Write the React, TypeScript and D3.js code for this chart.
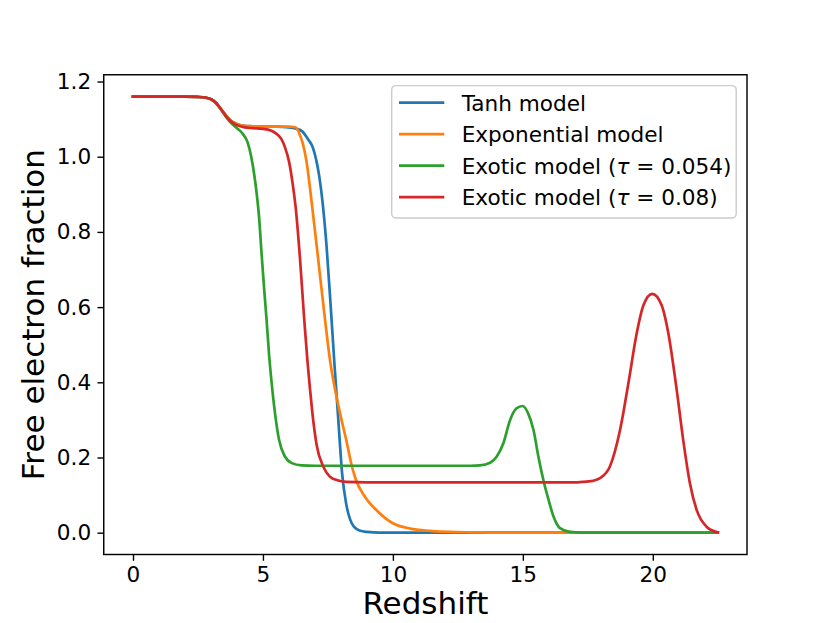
import React, { useRef, useEffect } from "react";
import * as d3 from "d3";

// Tanh model
const zTanh = [0, 1, 2, 2.5, 2.8, 3.0, 3.2, 3.4, 3.6, 3.8, 4.0, 4.3, 4.6, 5.0, 5.5, 6.0, 6.25, 6.5, 6.75, 6.9, 7.0, 7.07, 7.15, 7.3, 7.45, 7.6, 7.75, 7.9, 8.05, 8.2, 8.35, 8.5, 8.75, 9.0, 9.5, 10, 12, 15, 18, 20, 22.5];
const xeTanh = [1.16, 1.16, 1.16, 1.159, 1.157, 1.153, 1.143, 1.126, 1.108, 1.094, 1.087, 1.082, 1.081, 1.08, 1.08, 1.078, 1.075, 1.068, 1.045, 1.028, 1.006, 0.985, 0.955, 0.875, 0.76, 0.61, 0.45, 0.3, 0.155, 0.078, 0.036, 0.016, 0.005, 0.002, 0, 0, 0, 0, 0, 0, 0];

// Exponential model
const zExp = [0, 1, 2, 2.5, 2.8, 3.0, 3.2, 3.4, 3.6, 3.8, 4.0, 4.3, 4.6, 5.0, 5.5, 6.0, 6.2, 6.3, 6.4, 6.53, 6.67, 6.91, 7.13, 7.39, 7.58, 7.94, 8.22, 8.41, 8.58, 8.93, 9.44, 10.0, 10.66, 11.43, 12.2, 13, 14, 16, 18, 20, 22.5];
const xeExp = [1.16, 1.16, 1.16, 1.159, 1.157, 1.153, 1.143, 1.126, 1.108, 1.094, 1.087, 1.082, 1.081, 1.08, 1.08, 1.08, 1.079, 1.076, 1.062, 1.036, 0.99, 0.858, 0.725, 0.566, 0.459, 0.326, 0.242, 0.18, 0.14, 0.095, 0.055, 0.025, 0.011, 0.005, 0.002, 0.001, 0, 0, 0, 0, 0];

// Exotic model, tau = 0.054
const zExotic054 = [0, 1, 2, 2.5, 2.8, 3.0, 3.2, 3.4, 3.6, 3.8, 4.0, 4.2, 4.4, 4.55, 4.7, 4.85, 4.95, 5.05, 5.14, 5.24, 5.34, 5.46, 5.62, 5.85, 6.11, 6.49, 7, 9, 11, 13, 13.35, 13.74, 13.99, 14.25, 14.51, 14.76, 14.99, 15.2, 15.41, 15.6, 15.79, 15.99, 16.18, 16.43, 16.81, 17.3, 18, 20, 22.5];
const xeExotic054 = [1.16, 1.16, 1.16, 1.159, 1.157, 1.153, 1.142, 1.124, 1.104, 1.088, 1.076, 1.063, 1.04, 1.0, 0.935, 0.84, 0.74, 0.645, 0.566, 0.47, 0.395, 0.32, 0.247, 0.202, 0.185, 0.179, 0.178, 0.178, 0.178, 0.178, 0.179, 0.186, 0.202, 0.238, 0.3, 0.331, 0.337, 0.318, 0.273, 0.202, 0.14, 0.087, 0.043, 0.012, 0.002, 0, 0, 0, 0];

// Exotic model, tau = 0.08
const zExotic08 = [0, 1, 2, 2.5, 2.8, 3.0, 3.2, 3.4, 3.6, 3.8, 4.0, 4.3, 4.6, 5.0, 5.3, 5.5, 5.7, 5.85, 6.01, 6.15, 6.27, 6.43, 6.59, 6.71, 6.8, 6.9, 7.07, 7.32, 7.58, 7.9, 8.22, 9, 12, 15, 17, 17.46, 17.71, 17.97, 18.35, 18.74, 19.06, 19.38, 19.64, 19.98, 20.34, 20.6, 20.92, 21.17, 21.43, 21.69, 22.07, 22.5];
const xeExotic08 = [1.16, 1.16, 1.16, 1.159, 1.157, 1.153, 1.143, 1.125, 1.106, 1.092, 1.084, 1.078, 1.076, 1.074, 1.07, 1.062, 1.048, 1.025, 0.985, 0.925, 0.858, 0.725, 0.566, 0.459, 0.39, 0.32, 0.232, 0.176, 0.149, 0.139, 0.135, 0.134, 0.134, 0.134, 0.134, 0.136, 0.138, 0.145, 0.176, 0.273, 0.397, 0.53, 0.605, 0.635, 0.605, 0.53, 0.38, 0.247, 0.131, 0.06, 0.016, 0.001];

const labels = ["Tanh model", "Exponential model", "Exotic model (", "Exotic model ("];
const tauValues = ["", "", "0.054", "0.08"];
const colors = ["#1f77b4", "#ff7f0e", "#2ca02c", "#d62728"];
const xTicks = [0, 5, 10, 15, 20];
const yTicks = [0, 0.2, 0.4, 0.6, 0.8, 1.0, 1.2];

const FONT = "DejaVu Sans, Liberation Sans, sans-serif";

const XeChart = () => {
    const ref = useRef<SVGSVGElement | null>(null);

    useEffect(() => {
        const left = 103.75;
        const right = 747;
        const top = 74.76;
        const bottom = 554.5;

        const series = [
            { z: zTanh, xe: xeTanh },
            { z: zExp, xe: xeExp },
            { z: zExotic054, xe: xeExotic054 },
            { z: zExotic08, xe: xeExotic08 },
        ];

        const svg = d3.select(ref.current);
        svg.selectAll("*").remove();

        svg.append("rect").attr("width", 830).attr("height", 623).attr("fill", "#fff");

        // matplotlib-like 5% margins
        const [zMin, zMax] = d3.extent(series.flatMap((s) => s.z)) as [number, number];
        const [yMin, yMax] = d3.extent(series.flatMap((s) => s.xe)) as [number, number];
        const zPad = (zMax - zMin) * 0.05;
        const yPad = (yMax - yMin) * 0.05;

        const x = d3.scaleLinear().domain([zMin - zPad, zMax + zPad]).range([left, right]);
        const y = d3.scaleLinear().domain([yMin - yPad, yMax + yPad]).range([bottom, top]);

        const line = d3
            .line<[number, number]>()
            .x((d) => x(d[0]))
            .y((d) => y(d[1]))
            .curve(d3.curveMonotoneX);

        // Lines
        series.forEach((s, i) => {
            svg.append("path")
                .datum(s.z.map((z, j) => [z, s.xe[j]] as [number, number]))
                .attr("d", line)
                .attr("fill", "none")
                .attr("stroke", colors[i])
                .attr("stroke-width", 2.7)
                .attr("stroke-linejoin", "round")
                .attr("stroke-linecap", "square");
        });

        // X axis
        const gx = svg
            .append("g")
            .attr("transform", `translate(0,${bottom})`)
            .call(
                d3.axisBottom(x).tickValues(xTicks).tickSize(6.3).tickPadding(6.3).tickSizeOuter(0).tickFormat(d3.format("d"))
            );
        gx.select(".domain").remove();
        gx.attr("font-family", FONT).attr("font-size", 21.6);
        gx.selectAll("line").attr("stroke", "#000").attr("stroke-width", 1.4);
        gx.selectAll("text").attr("fill", "#000");

        // Y axis
        const gy = svg
            .append("g")
            .attr("transform", `translate(${left},0)`)
            .call(
                d3.axisLeft(y).tickValues(yTicks).tickSize(6.3).tickPadding(6.3).tickSizeOuter(0).tickFormat(d3.format(".1f"))
            );
        gy.select(".domain").remove();
        gy.attr("font-family", FONT).attr("font-size", 21.6);
        gy.selectAll("line").attr("stroke", "#000").attr("stroke-width", 1.4);
        gy.selectAll("text").attr("fill", "#000");

        // Spines
        svg.append("rect")
            .attr("x", left)
            .attr("y", top)
            .attr("width", right - left)
            .attr("height", bottom - top)
            .attr("fill", "none")
            .attr("stroke", "#000")
            .attr("stroke-width", 1.44);

        // Axis labels
        svg.append("text")
            .attr("x", (left + right) / 2)
            .attr("y", 614)
            .attr("text-anchor", "middle")
            .attr("font-family", FONT)
            .attr("font-size", 31)
            .text("Redshift");

        svg.append("text")
            .attr("transform", `translate(44,${(top + bottom) / 2}) rotate(-90)`)
            .attr("text-anchor", "middle")
            .attr("font-family", FONT)
            .attr("font-size", 31)
            .text("Free electron fraction");

        // Legend
        const lg = svg.append("g");
        lg.append("rect")
            .attr("x", 391.7)
            .attr("y", 85.6)
            .attr("width", 344.5)
            .attr("height", 132.4)
            .attr("rx", 4.3)
            .attr("fill", "#fff")
            .attr("fill-opacity", 0.8)
            .attr("stroke", "#cccccc")
            .attr("stroke-width", 1.44);

        labels.forEach((label, i) => {
            const cy = 102.7 + i * 31.5;
            lg.append("line")
                .attr("x1", 399)
                .attr("x2", 444.3)
                .attr("y1", cy)
                .attr("y2", cy)
                .attr("stroke", colors[i])
                .attr("stroke-width", 2.7);
            const t = lg
                .append("text")
                .attr("x", 461.7)
                .attr("y", cy + 7.8)
                .attr("font-family", FONT)
                .attr("font-size", 21.6)
                .attr("fill", "#000");
            t.append("tspan").text(label);
            if (tauValues[i]) {
                t.append("tspan").attr("font-style", "italic").text("τ");
                t.append("tspan").text(` = ${tauValues[i]})`);
            }
        });
    }, []);

    return <svg ref={ref} width={830} height={623} viewBox="0 0 830 623" style={{ display: "block" }} />;
};

export default function App() {
    useEffect(() => {
        document.body.style.margin = "0";
    }, []);
    return <XeChart />;
}
